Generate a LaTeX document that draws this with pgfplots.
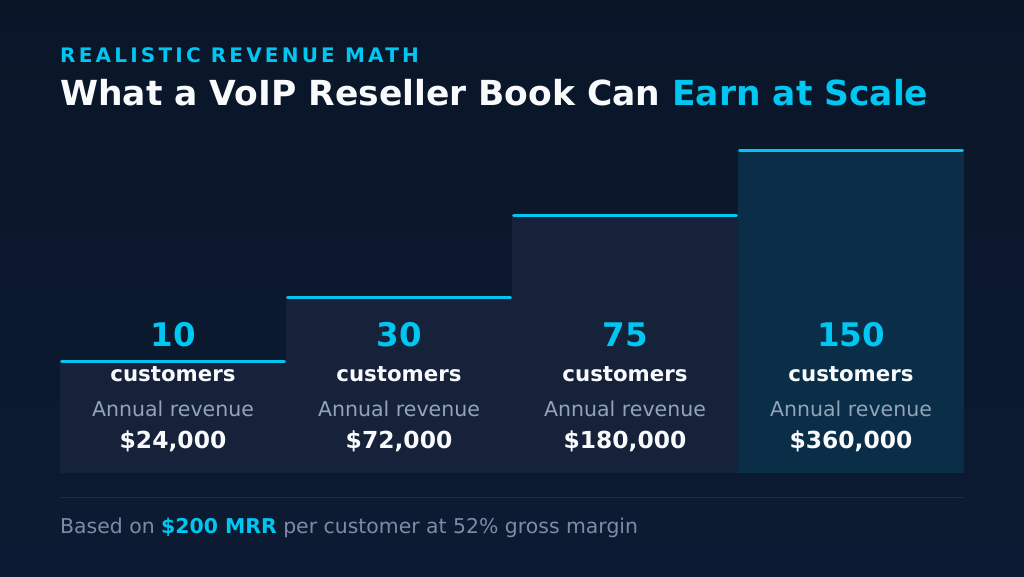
\documentclass[border=0pt]{standalone}
\usepackage{fontspec}
\setmainfont{DejaVu Sans}
\newfontfamily\spacedbold[LetterSpace=16]{DejaVu Sans Bold}
\usepackage{pgfplots}
\pgfplotsset{compat=1.18}
\definecolor{bgtop}{HTML}{0A1628}
\definecolor{bgbot}{HTML}{0C1B33}
\definecolor{barfill}{HTML}{16223A}
\definecolor{barhi}{HTML}{0A2E48}
\definecolor{accent}{HTML}{00C6F2}
\definecolor{greytxt}{HTML}{94A3B8}
\definecolor{foottxt}{HTML}{7D8BA6}
\definecolor{sepline}{HTML}{0E3448}
\definecolor{whitetxt}{HTML}{F8FAFC}
\tikzset{
  numlab/.style={anchor=base, inner sep=0, text=accent, font=\fontsize{32.5}{36}\selectfont\bfseries},
  custlab/.style={anchor=base, inner sep=0, text=whitetxt, font=\fontsize{21.3}{24}\selectfont\bfseries},
  annlab/.style={anchor=base, inner sep=0, text=greytxt, font=\fontsize{20.5}{24}\selectfont},
  revlab/.style={anchor=base, inner sep=0, text=whitetxt, font=\fontsize{23.4}{26}\selectfont\bfseries},
}
\begin{document}
\begin{tikzpicture}[x=1pt,y=1pt]
\shade[top color=bgtop, bottom color=bgbot] (0,0) rectangle (1024,576);
\node[anchor=base west, inner sep=0, text=accent, font=\fontsize{20}{24}\selectfont\spacedbold] at (60,513.7) {REALISTIC REVENUE MATH};
\node[anchor=base west, inner sep=0, text=whitetxt, font=\fontsize{34.5}{40}\selectfont\bfseries] at (60,470) {What a VoIP Reseller Book Can \textcolor{accent}{Earn at Scale}};
\begin{axis}[
  at={(60pt,103pt)}, anchor=origin,
  scale only axis, width=904pt, height=324pt,
  xmin=0, xmax=4, ymin=0, ymax=324,
  axis lines=none, xtick=\empty, ytick=\empty,
  clip=false,
  /pgf/bar shift=0pt, bar width=1,
]
\addplot[ybar, fill=barfill, draw=none] coordinates {(0.5,113)};
\addplot[ybar, fill=barfill, draw=none] coordinates {(1.5,177)};
\addplot[ybar, fill=barfill, draw=none] coordinates {(2.5,259)};
\addplot[ybar, fill=barhi, draw=none] coordinates {(3.5,324)};
\addplot[draw=accent, line width=3pt, line cap=round, unbounded coords=jump, mark=none]
  coordinates {(0.007,111.5) (0.993,111.5) (1,nan) (1.007,175.5) (1.993,175.5) (2,nan)
               (2.007,257.5) (2.993,257.5) (3,nan) (3.007,322.5) (3.993,322.5)};
\node[numlab] at (axis cs:0.5,126.3) {10};
\node[numlab] at (axis cs:1.5,126.3) {30};
\node[numlab] at (axis cs:2.5,126.3) {75};
\node[numlab] at (axis cs:3.5,126.3) {150};
\node[custlab] at (axis cs:0.5,91.3) {customers};
\node[custlab] at (axis cs:1.5,91.3) {customers};
\node[custlab] at (axis cs:2.5,91.3) {customers};
\node[custlab] at (axis cs:3.5,91.3) {customers};
\node[annlab] at (axis cs:0.5,56.3) {Annual revenue};
\node[annlab] at (axis cs:1.5,56.3) {Annual revenue};
\node[annlab] at (axis cs:2.5,56.3) {Annual revenue};
\node[annlab] at (axis cs:3.5,56.3) {Annual revenue};
\node[revlab] at (axis cs:0.5,24.7) {\$24,000};
\node[revlab] at (axis cs:1.5,24.7) {\$72,000};
\node[revlab] at (axis cs:2.5,24.7) {\$180,000};
\node[revlab] at (axis cs:3.5,24.7) {\$360,000};
\end{axis}
\draw[sepline, line width=1pt] (60,79) -- (964,79);
\node[anchor=base west, inner sep=0, text=foottxt, font=\fontsize{20.4}{24}\selectfont] at (60,43) {Based on \textcolor{accent}{\bfseries\$200 MRR} per customer at 52\% gross margin};
\end{tikzpicture}
\end{document}
